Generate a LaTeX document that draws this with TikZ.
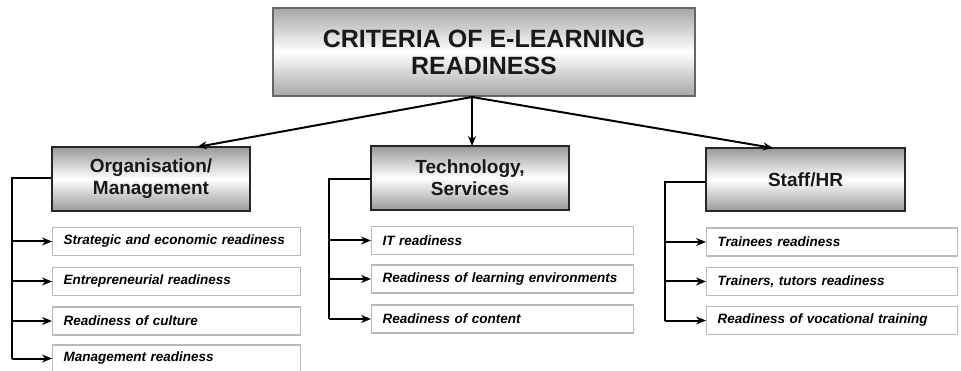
\documentclass[tikz,border=0pt]{standalone}
\usepackage{fontspec}
\setmainfont{Liberation Sans}
\usetikzlibrary{arrows.meta}
\begin{document}
\begin{tikzpicture}[x=1pt,y=-1pt,
  titlebox/.style={draw=gray!80!black, line width=1.5pt, top color=gray!70, bottom color=gray!70, middle color=white,
    font=\fontsize{25}{27}\selectfont\bfseries, align=center, inner sep=0pt, text=black!90},
  headbox/.style={draw=black!85, line width=1.5pt, top color=gray!80, bottom color=gray!80, middle color=white,
    font=\fontsize{19}{22}\selectfont\bfseries, align=center, inner sep=0pt, text=black!90},
  itembox/.style={draw=gray!55, line width=1.1pt, fill=white, anchor=west, align=left,
    font=\fontsize{13.5}{15}\selectfont\bfseries\itshape, inner xsep=11pt, inner ysep=0pt, text width=#1-22pt, minimum height=28pt},
  conn/.style={line width=2pt, -{Stealth[length=10pt,width=8pt]}},
  branch/.style={line width=1.5pt}
]
\clip (0,0) rectangle (961,371);
\useasboundingbox (0,0) rectangle (961,371);

% title
\node[titlebox, minimum width=422pt, minimum height=88pt] (title) at (484,52) {CRITERIA OF E-LEARNING\\READINESS};

% headers
\node[headbox, minimum width=198pt, minimum height=64pt] (org) at (151,179) {Organisation/\\Management};
\node[headbox, minimum width=198pt, minimum height=64pt] (tech) at (470,178) {Technology,\\Services};
\node[headbox, minimum width=199pt, minimum height=63pt] (staff) at (805.5,179.5) {Staff/HR};

% top arrows
\coordinate (src) at (472,97);
\coordinate (orgIn) at (197,147);
\coordinate (techIn) at (472,146);
\coordinate (staffIn) at (773,148);
\draw[conn] (src) -- (orgIn);
\draw[conn] (src) -- (techIn);
\draw[conn] (src) -- (staffIn);

% organisation items
\node[itembox=248pt] (o1) at (52,241.5) {Strategic and economic readiness};
\node[itembox=248pt] (o2) at (52,281.5) {Entrepreneurial readiness};
\node[itembox=248pt] (o3) at (52,321) {Readiness of culture};
\node[itembox=248pt, minimum height=27pt] (o4) at (52,358.5) {Management readiness};

% technology items
\node[itembox=262pt] (t1) at (371,240.5) {IT readiness};
\node[itembox=262pt] (t2) at (371,279) {Readiness of learning environments};
\node[itembox=262pt] (t3) at (371,319) {Readiness of content};

% staff items
\node[itembox=251pt] (s1) at (706,242) {Trainees readiness};
\node[itembox=251pt] (s2) at (706,281.5) {Trainers, tutors readiness};
\node[itembox=251pt] (s3) at (706,320.5) {Readiness of vocational training};

% branches
\coordinate (ob) at (12,178);
\draw[branch] (org.west |- ob) -- (ob) -- (ob |- o4.west);
\foreach \n in {o1,o2,o3,o4} \draw[conn] (ob |- \n.west) -- (\n.west);

\coordinate (tb) at (329,179);
\draw[branch] (tech.west |- tb) -- (tb) -- (tb |- t3.west);
\foreach \n in {t1,t2,t3} \draw[conn] (tb |- \n.west) -- (\n.west);

\coordinate (sb) at (665,182);
\draw[branch] (staff.west |- sb) -- (sb) -- (sb |- s3.west);
\foreach \n in {s1,s2,s3} \draw[conn] (sb |- \n.west) -- (\n.west);
\end{tikzpicture}
\end{document}
